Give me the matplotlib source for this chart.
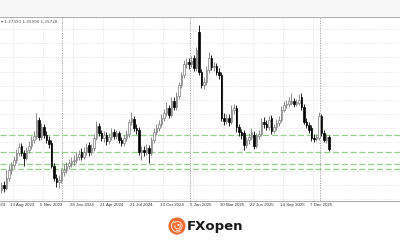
"""
USDCAD weekly candles (MT4 style) with four support levels and the FXOpen logo.
"""

import numpy as np
import matplotlib.pyplot as plt
from matplotlib.patches import Rectangle, Circle, Arc
from matplotlib.transforms import blended_transform_factory

# --- weekly OHLC ---
opens = [
    1.3094, 1.3145, 1.3114, 1.3217, 1.3300, 1.3351, 1.3403, 1.3475, 1.3547, 1.3475,
    1.3423, 1.3506, 1.3547, 1.3609, 1.3650, 1.3815, 1.3640, 1.3742, 1.3660, 1.3609,
    1.3578, 1.3341, 1.3217, 1.3176, 1.3197, 1.3279, 1.3300, 1.3341, 1.3372, 1.3392,
    1.3403, 1.3434, 1.3485, 1.3434, 1.3485, 1.3557, 1.3485, 1.3526, 1.3629, 1.3753,
    1.3681, 1.3629, 1.3660, 1.3598, 1.3640, 1.3691, 1.3650, 1.3681, 1.3609, 1.3578,
    1.3629, 1.3670, 1.3794, 1.3825, 1.3732, 1.3712, 1.3485, 1.3506, 1.3485, 1.3526,
    1.3475, 1.3609, 1.3691, 1.3732, 1.3773, 1.3835, 1.3887, 1.3938, 1.3866, 1.4010,
    1.3949, 1.4062, 1.4175, 1.4278, 1.4391, 1.4412, 1.4391, 1.4453, 1.4350, 1.4721,
    1.4309, 1.4175, 1.4206, 1.4330, 1.4453, 1.4360, 1.4371, 1.4309, 1.4278, 1.3835,
    1.3804, 1.3835, 1.3794, 1.3918, 1.3938, 1.3742, 1.3691, 1.3681, 1.3557, 1.3609,
    1.3640, 1.3660, 1.3547, 1.3650, 1.3670, 1.3794, 1.3773, 1.3742, 1.3835, 1.3701,
    1.3742, 1.3784, 1.3815, 1.3918, 1.3969, 1.3979, 1.3990, 1.4010, 1.3979, 1.3990,
    1.4051, 1.3949, 1.3794, 1.3763, 1.3732, 1.3629, 1.3619, 1.3629, 1.3856, 1.3681,
    1.3609, 1.3640,
]
highs = [
    1.3176, 1.3186, 1.3300, 1.3351, 1.3382, 1.3444, 1.3516, 1.3578, 1.3578, 1.3506,
    1.3537, 1.3598, 1.3650, 1.3701, 1.3887, 1.3846, 1.3784, 1.3773, 1.3701, 1.3650,
    1.3609, 1.3372, 1.3258, 1.3248, 1.3320, 1.3361, 1.3382, 1.3413, 1.3434, 1.3454,
    1.3485, 1.3506, 1.3526, 1.3537, 1.3578, 1.3588, 1.3567, 1.3670, 1.3804, 1.3784,
    1.3712, 1.3701, 1.3691, 1.3681, 1.3732, 1.3722, 1.3712, 1.3701, 1.3640, 1.3660,
    1.3712, 1.3825, 1.3897, 1.3856, 1.3773, 1.3742, 1.3547, 1.3547, 1.3567, 1.3557,
    1.3640, 1.3732, 1.3773, 1.3815, 1.3877, 1.3928, 1.4000, 1.3969, 1.4051, 1.4051,
    1.4103, 1.4206, 1.4309, 1.4433, 1.4453, 1.4453, 1.4474, 1.4484, 1.4566, 1.4793,
    1.4340, 1.4257, 1.4371, 1.4515, 1.4484, 1.4412, 1.4402, 1.4350, 1.4309, 1.3887,
    1.3877, 1.3877, 1.3969, 1.3979, 1.3969, 1.3773, 1.3722, 1.3712, 1.3640, 1.3681,
    1.3732, 1.3701, 1.3681, 1.3712, 1.3835, 1.3846, 1.3815, 1.3856, 1.3866, 1.3773,
    1.3825, 1.3856, 1.3959, 1.4010, 1.4021, 1.4051, 1.4093, 1.4041, 1.4031, 1.4082,
    1.4093, 1.3979, 1.3835, 1.3794, 1.3763, 1.3670, 1.3670, 1.3897, 1.3877, 1.3712,
    1.3670, 1.3660,
]
lows = [
    1.3063, 1.3073, 1.3094, 1.3186, 1.3258, 1.3320, 1.3372, 1.3444, 1.3444, 1.3341,
    1.3403, 1.3475, 1.3516, 1.3578, 1.3619, 1.3609, 1.3609, 1.3629, 1.3578, 1.3526,
    1.3320, 1.3186, 1.3124, 1.3114, 1.3166, 1.3238, 1.3269, 1.3310, 1.3331, 1.3351,
    1.3372, 1.3403, 1.3403, 1.3413, 1.3454, 1.3444, 1.3454, 1.3495, 1.3609, 1.3650,
    1.3598, 1.3588, 1.3557, 1.3567, 1.3609, 1.3619, 1.3619, 1.3578, 1.3547, 1.3547,
    1.3598, 1.3640, 1.3763, 1.3701, 1.3670, 1.3454, 1.3403, 1.3444, 1.3454, 1.3372,
    1.3444, 1.3578, 1.3660, 1.3701, 1.3742, 1.3804, 1.3856, 1.3835, 1.3846, 1.3918,
    1.3918, 1.4031, 1.4144, 1.4247, 1.4350, 1.4340, 1.4360, 1.4319, 1.4319, 1.4278,
    1.4144, 1.4134, 1.4175, 1.4299, 1.4330, 1.4319, 1.4278, 1.4237, 1.3804, 1.3763,
    1.3773, 1.3753, 1.3773, 1.3877, 1.3691, 1.3650, 1.3619, 1.3506, 1.3526, 1.3567,
    1.3609, 1.3516, 1.3526, 1.3619, 1.3650, 1.3732, 1.3712, 1.3712, 1.3670, 1.3681,
    1.3712, 1.3753, 1.3794, 1.3897, 1.3938, 1.3949, 1.3969, 1.3949, 1.3959, 1.3969,
    1.3918, 1.3773, 1.3732, 1.3681, 1.3598, 1.3588, 1.3598, 1.3609, 1.3650, 1.3588,
    1.3578, 1.3495,
]
closes = [
    1.3145, 1.3114, 1.3217, 1.3300, 1.3351, 1.3403, 1.3475, 1.3537, 1.3475, 1.3423,
    1.3506, 1.3547, 1.3609, 1.3650, 1.3815, 1.3640, 1.3742, 1.3660, 1.3609, 1.3567,
    1.3341, 1.3217, 1.3176, 1.3197, 1.3279, 1.3300, 1.3341, 1.3372, 1.3392, 1.3403,
    1.3434, 1.3464, 1.3434, 1.3485, 1.3537, 1.3485, 1.3526, 1.3629, 1.3753, 1.3681,
    1.3629, 1.3660, 1.3598, 1.3640, 1.3691, 1.3650, 1.3681, 1.3609, 1.3578, 1.3629,
    1.3670, 1.3794, 1.3835, 1.3732, 1.3712, 1.3485, 1.3506, 1.3485, 1.3526, 1.3475,
    1.3609, 1.3691, 1.3732, 1.3773, 1.3835, 1.3887, 1.3938, 1.3866, 1.4010, 1.3949,
    1.4062, 1.4175, 1.4278, 1.4391, 1.4412, 1.4391, 1.4422, 1.4350, 1.4536, 1.4309,
    1.4175, 1.4206, 1.4330, 1.4453, 1.4360, 1.4371, 1.4309, 1.4278, 1.3835, 1.3804,
    1.3835, 1.3794, 1.3918, 1.3938, 1.3742, 1.3691, 1.3660, 1.3557, 1.3609, 1.3640,
    1.3691, 1.3547, 1.3650, 1.3670, 1.3794, 1.3773, 1.3742, 1.3815, 1.3701, 1.3742,
    1.3784, 1.3815, 1.3918, 1.3969, 1.3979, 1.4010, 1.4010, 1.3979, 1.4000, 1.4021,
    1.3949, 1.3794, 1.3763, 1.3712, 1.3629, 1.3619, 1.3640, 1.3856, 1.3681, 1.3609,
    1.3640, 1.3516,
]

# horizontal support levels (green dashed)
levels = [1.3655, 1.3485, 1.3361, 1.3310]

tick_labels = ["21 May 2023", "13 Aug 2023", "5 Nov 2023", "28 Jan 2024",
               "21 Apr 2024", "21 Jul 2024", "13 Oct 2024", "5 Jan 2025",
               "30 Mar 2025", "22 Jun 2025", "14 Sep 2025", "7 Dec 2025"]
header_text = "\u25be 1.37393 1.35990 1.35728"

# --- layout ---
W, H = 400, 240
fig = plt.figure(figsize=(4, 2.4), dpi=100)
fig.patch.set_facecolor("white")

# grey band at the top
fig.patches.append(Rectangle((0, 1 - 16 / H), 1, 16 / H, transform=fig.transFigure,
                             facecolor="#f6f6f6", edgecolor="none", zorder=0))

ax = fig.add_axes([0, 39 / H, 1, 184 / H])
ax.set_facecolor("white")
n = len(closes)
x = np.arange(n)
ax.set_xlim(-0.5, 159.5)
ax.set_ylim(1.2980, 1.4875)

# grid
tick_pos = np.arange(len(tick_labels)) * 12 - 7.3
for t in tick_pos:
    ax.axvline(t, color="#d8d8d8", lw=0.5, ls=(0, (1, 1.5)), zorder=1)
for yv in np.arange(1.3145 - 0.0146, 1.49, 0.0146):
    ax.axhline(yv, color="#d8d8d8", lw=0.5, ls=(0, (1, 1.5)), zorder=1)
for t in [24.3, 75.5, 127.5]:
    ax.axvline(t, color="#9a9a9a", lw=0.6, ls=(0, (1.5, 1.5)), zorder=1)

# support levels
for lv in levels:
    ax.axhline(lv, color="#96d08e", lw=0.9, dashes=(5, 2), zorder=2)

# candles
o = np.array(opens)
c = np.array(closes)
up = c >= o
ax.vlines(x[up], np.array(lows)[up], np.array(highs)[up], color="#7a7a7a", lw=0.6, zorder=3)
ax.vlines(x[~up], np.array(lows)[~up], np.array(highs)[~up], color="black", lw=0.6, zorder=3)
bottoms = np.minimum(o, c)
heights = np.maximum(np.abs(c - o), 0.0003)
ax.bar(x[up], heights[up], bottom=bottoms[up], width=0.6,
       facecolor="white", edgecolor="#7a7a7a", linewidth=0.5, zorder=4)
ax.bar(x[~up], heights[~up], bottom=bottoms[~up], width=0.6,
       facecolor="black", edgecolor="black", linewidth=0.5, zorder=4)

ax.set_xticks([])
ax.set_yticks([])
for s in ["left", "right", "top"]:
    ax.spines[s].set_visible(False)
ax.spines["bottom"].set_color("#9a9a9a")
ax.spines["bottom"].set_linewidth(0.6)

# line under the grey band
fig.add_artist(plt.Line2D([0, 1], [1 - 16.5 / H] * 2, transform=fig.transFigure,
                          color="#b0b0b0", lw=0.8))

# date labels
trans = blended_transform_factory(ax.transData, ax.transAxes)
for t, lab in zip(tick_pos, tick_labels):
    ax.text(t - 1.2, -0.012, lab, transform=trans, ha="left", va="top",
            fontsize=3.2, family="Liberation Sans", color="#333333", clip_on=False)

ax.text(0.002, 0.985, header_text, transform=ax.transAxes, ha="left", va="top",
        fontsize=3.0, family="DejaVu Sans", color="#555555")

# FXOpen logo
lax = fig.add_axes([167 / W, 1 - 236 / H, 20 / W, 20 / H])
lax.set_xlim(-1, 1)
lax.set_ylim(-1, 1)
lax.set_aspect("equal")
lax.axis("off")
orange = "#f26a2e"
lax.add_patch(Circle((0, 0), 0.8, facecolor=orange, edgecolor=orange, lw=0.8))
for r, a1, a2 in [(0.6, 120, 300), (0.45, 250, 500), (0.28, 160, 400)]:
    lax.add_patch(Arc((0.05, 0), 2 * r, 2 * r, theta1=a1, theta2=a2, color="#fde3d6", lw=0.7))
lax.add_patch(Circle((0.15, 0.1), 0.1, facecolor="white", edgecolor="none"))

fig.text(187 / W, 1 - 226.5 / H, "FXopen", ha="left", va="center", fontsize=9.5,
         fontweight="bold", family="DejaVu Sans", color="#1a1a1a")

fig.savefig("out.png", dpi=100)
